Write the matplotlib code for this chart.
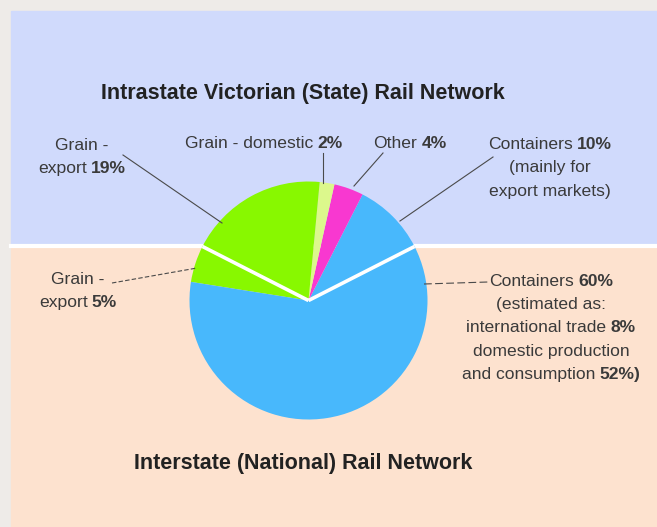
import matplotlib
matplotlib.use("Agg")
import numpy as np
import matplotlib.pyplot as plt
from matplotlib.patches import Rectangle
from matplotlib.offsetbox import TextArea, HPacker, VPacker, AnnotationBbox

plt.rcParams['font.family'] = ['Liberation Sans', 'DejaVu Sans']

W, H = 657, 527

# freight share by network (per cent), anticlockwise from the right-hand split
slice_names = ["Containers (state)", "Other", "Grain - domestic",
               "Grain - export (state)", "Grain - export (national)",
               "Containers (national)"]
slice_pct = [10, 4, 2, 19, 5, 60]
slice_colors = ["#48b8fc", "#f838d0", "#dcf88c", "#88f800", "#88f800", "#48b8fc"]
state_share = sum(slice_pct[:4])

top_title = "Intrastate Victorian (State) Rail Network"
bottom_title = "Interstate (National) Rail Network"

# each label: lines of (text, bold) pieces
labels = [
    [[("Grain -", False)], [("export", False), ("19%", True)]],
    [[("Grain - domestic", False), ("2%", True)]],
    [[("Other", False), ("4%", True)]],
    [[("Containers", False), ("10%", True)], [("(mainly for", False)],
     [("export markets)", False)]],
    [[("Grain -", False)], [("export", False), ("5%", True)]],
    [[("Containers", False), ("60%", True)], [("(estimated as:", False)],
     [("international trade", False), ("8%", True)],
     [("domestic production", False)],
     [("and consumption", False), ("52%)", True)]],
]
label_xy = [(82, 370), (264, 384), (410, 384), (550, 359), (78, 236), (551, 199)]
leaders = [((123, 372), (222, 304), "-"),
           ((323, 374), (323, 344), "-"),
           ((383, 374), (354, 341), "-"),
           ((493, 370), (400, 306), "-"),
           ((112, 244), (197, 259), (0, (4, 2))),
           ((424, 243), (488, 245), (0, (7, 3)))]

fig = plt.figure(figsize=(W / 100, H / 100), dpi=100)
fig.patch.set_facecolor("#eeebe8")
ax = fig.add_axes([0, 0, 1, 1])

# two background bands with a white split between them
split_y = 281
ax.add_patch(Rectangle((11, split_y), W - 11, H - 11 - split_y, color="#d0dafc", zorder=0))
ax.add_patch(Rectangle((11, 0), W - 11, split_y, color="#fde2cf", zorder=0))
ax.plot([11, W], [split_y, split_y], color="white", lw=3, zorder=1)

cx, cy, r = 308.5, 226.5, 119
start = 90 - state_share * 3.6 / 2
ax.pie(slice_pct, colors=slice_colors, startangle=start, counterclock=True,
       center=(cx, cy), radius=r, frame=True,
       wedgeprops=dict(linewidth=0, zorder=2))
ax.set_xlim(0, W)
ax.set_ylim(0, H)
ax.set_aspect("equal")
ax.axis("off")

# white spokes where the two networks meet
for ang in (start, start + state_share * 3.6):
    t = np.deg2rad(ang)
    ax.plot([cx, cx + r * np.cos(t)], [cy, cy + r * np.sin(t)],
            color="white", lw=2.6, solid_capstyle="butt", zorder=3)

for (p0, p1, ls) in leaders:
    ax.plot([p0[0], p1[0]], [p0[1], p1[1]], color="#4a4a4a", lw=0.8,
            linestyle=ls, zorder=4)

ax.text(303, 433, top_title, ha="center", va="center", fontsize=15.5,
        fontweight="bold", color="#222222")
ax.text(303, 63, bottom_title, ha="center", va="center", fontsize=15.5,
        fontweight="bold", color="#222222")

for lines, (x, y) in zip(labels, label_xy):
    rows = []
    for pieces in lines:
        areas = [TextArea(txt, textprops=dict(fontsize=12.6, color="#3a3a3a",
                                              fontweight="bold" if b else "normal"))
                 for txt, b in pieces]
        rows.append(HPacker(children=areas, align="baseline", pad=0, sep=3))
    box = VPacker(children=rows, align="center", pad=0, sep=6)
    ab = AnnotationBbox(box, (x, y), frameon=False, box_alignment=(0.5, 0.5),
                        zorder=5)
    ax.add_artist(ab)

fig.savefig("out.png", dpi=100, facecolor=fig.get_facecolor())
